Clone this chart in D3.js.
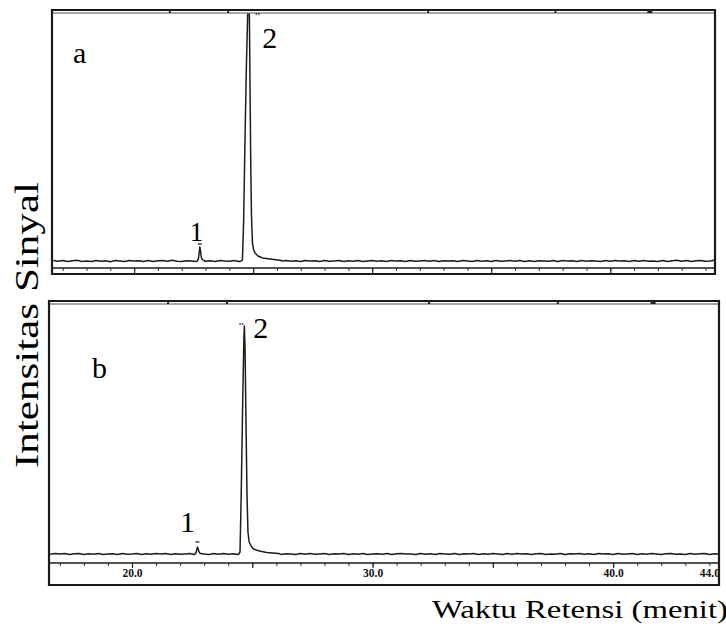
<!DOCTYPE html>
<html><head><meta charset="utf-8">
<script src="https://cdn.jsdelivr.net/npm/d3@7"></script>
<style>body{margin:0;background:#fff} svg text{font-family:"Liberation Serif","Times New Roman",Times,serif;}</style>
</head><body><svg id="c" width="726" height="630"></svg>
<script>
// ---- data (retention time in minutes, signal in arbitrary units) ----
const timeStart = 16.6, timeStep = 0.2;
const noiseA = [
0.4,-0.3,0.6,-0.5,0.2,0.7,-0.4,0.1,-0.6,0.5,
-0.2,0.3,-0.7,0.4,0.0,-0.5,0.6,-0.1,0.3,-0.4,
0.5,-0.6,0.2,0.4,-0.3,0.7,-0.2,-0.5,0.3,0.1,
-0.4,0.6,-0.3,0.2,-0.6,0.5,0.0,-0.2,0.4,-0.5,
0.3,-0.1,0.6,-0.4,0.2,-0.3,0.5,-0.6,0.1,0.4,
-0.2,0.3,-0.5,0.6,-0.1,0.2,-0.4,0.5,-0.3,0.0,
0.4,-0.6,0.3,-0.2,0.5,-0.4,0.1,0.6,-0.3,0.2,
-0.5,0.4,-0.1,0.3,-0.6,0.5,-0.2,0.1,0.4,-0.3,
0.6,-0.5,0.2,-0.1,0.3,-0.4,0.5,0.0,-0.6,0.4,
-0.2,0.3,-0.5,0.6,-0.3,0.1,0.4,-0.2,0.5,-0.4,
0.2,-0.6,0.3,0.1,-0.3,0.5,-0.4,0.6,-0.1,0.2,
-0.5,0.4,-0.2,0.3,0.0,-0.4,0.6,-0.3,0.5,-0.1,
0.2,-0.5,0.4,-0.3,0.6,-0.2,0.1,-0.4,0.5,-0.6,
0.3,0.8,-0.2,0.4,-0.5,0.2,0.6,-0.3,0.1,0.9];
const noiseB = [
-0.3,0.5,-0.1,0.4,-0.6,0.2,0.6,-0.4,0.3,-0.2,
0.5,-0.5,0.1,0.3,-0.4,0.6,-0.2,0.0,0.4,-0.6,
0.2,-0.3,0.5,-0.1,0.6,-0.5,0.3,-0.2,0.1,0.4,
-0.6,0.3,0.0,-0.4,0.5,-0.2,0.6,-0.3,0.2,-0.5,
0.4,0.1,-0.3,0.6,-0.6,0.2,-0.1,0.5,-0.4,0.3,
0.0,-0.5,0.4,-0.2,0.6,-0.3,0.1,0.5,-0.6,0.2,
-0.1,0.4,-0.4,0.3,-0.2,0.6,-0.5,0.1,0.3,-0.3,
0.5,-0.6,0.2,0.4,-0.1,0.0,-0.4,0.6,-0.2,0.3,
-0.5,0.4,0.1,-0.3,0.5,-0.6,0.2,-0.1,0.6,-0.4,
0.3,-0.2,0.5,0.0,-0.5,0.4,-0.3,0.6,-0.1,0.2,
-0.6,0.3,0.5,-0.4,0.1,-0.2,0.6,-0.5,0.3,0.0,
0.4,-0.3,0.2,-0.6,0.5,-0.1,0.3,-0.4,0.6,-0.2,
0.1,0.5,-0.5,0.2,-0.3,0.4,0.0,-0.6,0.3,0.6,
-0.2,0.1,-0.4,0.5,-0.3,0.2,0.4,-0.5,0.3,0.1];

const peak1A = [[22.66,0],[22.70,2],[22.73,8],[22.76,14],[22.79,10],[22.82,4],[22.86,1.5],[22.92,0.5]];
const peak2A = [[24.50,0],[24.55,1],[24.60,40],[24.66,125],[24.72,200],[24.78,255],[24.81,275],[24.84,250],[24.87,170],[24.90,95],[24.93,45],[24.97,18],[25.02,11],[25.08,8],[25.20,5],[25.40,3],[25.70,2],[26.20,0.5]];
const peak1B = [[22.62,0],[22.67,2],[22.70,5],[22.72,7],[22.75,5],[22.79,2],[22.84,0.5]];
const peak2B = [[24.44,0],[24.49,2],[24.54,60],[24.60,150],[24.65,215],[24.67,228],[24.70,205],[24.74,130],[24.78,60],[24.82,22],[24.87,12],[24.95,8],[25.05,5],[25.30,3],[25.60,1.5],[26.10,0.5]];

const peakLabels = ["1","2"];
const panelLetters = ["a","b"];
const xDomain = [16.55, 44.4];
const minorTicks = d3.range(17, 45);
const majorTicks = [20, 25, 30, 35, 40];
const tickLabelsB = [20, 30, 40, 44];
const topMarkTimes = [21.5, 23.95, 32.35, 37.7, 41.6];
const yLabel = "Intensitas Sinyal";
const xLabel = "Waktu Retensi (menit)";

// ---- drawing ----
const svg = d3.select("#c");

const panels = [
  {letter: panelLetters[0], noise: noiseA, peaks: [peak1A, peak2A],
   left: 52, right: 715, top: 10, inner: 13, base: 261, axisY: 268, bottom: 274,
   yMax: 248, labels: false, markY: [17, 247],
   lab1: {dx: -10, dy: -6, fs: 27}, lab2: {dx: 13.5, fs: 30, topY: 48}, letterPos: [73, 63]},
  {letter: panelLetters[1], noise: noiseB, peaks: [peak1B, peak2B],
   left: 49, right: 719, top: 301, inner: 304, base: 554, axisY: 563, bottom: 585,
   yMax: 250, labels: true, markY: [12, 230],
   lab1: {dx: -17.5, dy: -15, fs: 30}, lab2: {dx: 9, fs: 30, dy: 12}, letterPos: [92, 378]}
];

function buildTrace(noise, peaks) {
  const base = noise.map((v, i) => [timeStart + i * timeStep, v])
    .filter(d => !peaks.some(p => d[0] >= p[0][0] && d[0] <= p[p.length - 1][0]));
  return base.concat(...peaks).sort((a, b) => a[0] - b[0]);
}

panels.forEach((p, k) => {
  const g = svg.append("g");
  const x = d3.scaleLinear().domain(xDomain).range([p.left, p.right]);
  const y = d3.scaleLinear().domain([0, p.yMax]).range([p.base, p.inner]);

  const clipId = "clip" + k;
  svg.append("clipPath").attr("id", clipId).append("rect")
    .attr("x", p.left).attr("y", p.inner).attr("width", p.right - p.left).attr("height", p.axisY - p.inner);

  // trace
  const trace = buildTrace(p.noise, p.peaks);
  g.append("path").datum(trace)
    .attr("clip-path", `url(#${clipId})`)
    .attr("fill", "none").attr("stroke", "#1c1c1c").attr("stroke-width", 1.5)
    .attr("stroke-linejoin", "round")
    .attr("d", d3.line().x(d => x(d[0])).y(d => y(d[1])));

  // minor / major ticks below axis line
  const minor = d3.axisBottom(x).tickValues(minorTicks).tickSize(3).tickFormat("");
  const ga = g.append("g").attr("transform", `translate(0,${p.axisY})`).call(minor);
  ga.select(".domain").remove();
  ga.selectAll("line").attr("stroke", "#333").attr("stroke-width", 1);
  const major = d3.axisBottom(x).tickValues(majorTicks).tickSize(p.labels ? 5 : p.bottom - p.axisY).tickFormat("");
  const gm = g.append("g").attr("transform", `translate(0,${p.axisY})`).call(major);
  gm.select(".domain").remove();
  gm.selectAll("line").attr("stroke", "#222").attr("stroke-width", 1.2);

  if (p.labels) {
    const lab = d3.axisBottom(x).tickValues(tickLabelsB).tickSize(0).tickPadding(6).tickFormat(d3.format(".1f"));
    const gl = g.append("g").attr("transform", `translate(0,${p.axisY})`).call(lab);
    gl.select(".domain").remove();
    gl.attr("font-family", null);
    gl.selectAll("text").attr("font-weight", "bold")
      .attr("font-size", 11.5).attr("fill", "#111");
  }

  // frame
  const fr = g.append("g").attr("stroke", "#1a1a1a").attr("fill", "none");
  fr.append("line").attr("x1", p.left).attr("x2", p.right).attr("y1", p.top).attr("y2", p.top).attr("stroke-width", 2.2);
  fr.append("line").attr("x1", p.left).attr("x2", p.right).attr("y1", p.inner).attr("y2", p.inner).attr("stroke", "#8a8a8a").attr("stroke-width", 1.5);
  fr.append("line").attr("x1", p.left).attr("x2", p.right).attr("y1", p.axisY).attr("y2", p.axisY).attr("stroke-width", 1.4);
  fr.append("line").attr("x1", p.left).attr("x2", p.right).attr("y1", p.bottom).attr("y2", p.bottom).attr("stroke-width", 2.2);
  fr.append("line").attr("x1", p.left).attr("x2", p.left).attr("y1", p.top - 1).attr("y2", p.bottom + 1).attr("stroke-width", 2.2);
  fr.append("line").attr("x1", p.right).attr("x2", p.right).attr("y1", p.top - 1).attr("y2", p.bottom + 1).attr("stroke-width", 2.2);

  // small marks on the top line
  g.selectAll(".tm").data(topMarkTimes).enter().append("rect")
    .attr("x", d => x(d) - 1).attr("y", p.top).attr("width", (d, i) => i === 4 ? 5 : 2).attr("height", 3)
    .attr("fill", "#222");

  // integration marks above peaks
  const apexes = p.peaks.map(pk => pk.reduce((a, b) => b[1] > a[1] ? b : a));
  g.selectAll(".pm").data(apexes).enter().append("line")
    .attr("x1", (d, i) => x(d[0]) - 2 + (i === 1 && k === 0 ? 9 : (i === 1 ? -3 : 0)))
    .attr("x2", (d, i) => x(d[0]) + 2 + (i === 1 && k === 0 ? 9 : (i === 1 ? -3 : 0)))
    .attr("y1", (d, i) => y(p.markY[i])).attr("y2", (d, i) => y(p.markY[i]))
    .attr("stroke", "#222").attr("stroke-width", 1.3)
    .attr("stroke-dasharray", (d, i) => i === 1 ? "1.5,1" : null);

  // peak labels
  const a1 = apexes[0], a2 = apexes[1];
  g.append("text").text(peakLabels[0]).attr("font-size", p.lab1.fs)
    .attr("x", x(a1[0]) + p.lab1.dx).attr("y", y(a1[1]) + p.lab1.dy);
  g.append("text").text(peakLabels[1]).attr("font-size", p.lab2.fs)
    .attr("x", x(a2[0]) + p.lab2.dx)
    .attr("y", p.lab2.topY !== undefined ? p.lab2.topY : y(a2[1]) + p.lab2.dy);

  // panel letter
  g.append("text").text(p.letter).attr("font-size", 30)
    .attr("x", p.letterPos[0]).attr("y", p.letterPos[1]);
});

// axis titles
svg.append("text").text(yLabel).attr("font-size", 34)
  .attr("text-anchor", "middle").attr("textLength", 286).attr("lengthAdjust", "spacingAndGlyphs")
  .attr("transform", "translate(38,325) rotate(-90)");
svg.append("text").text(xLabel).attr("font-size", 25)
  .attr("x", 432).attr("y", 618).attr("textLength", 296).attr("lengthAdjust", "spacingAndGlyphs");
</script></body></html>
